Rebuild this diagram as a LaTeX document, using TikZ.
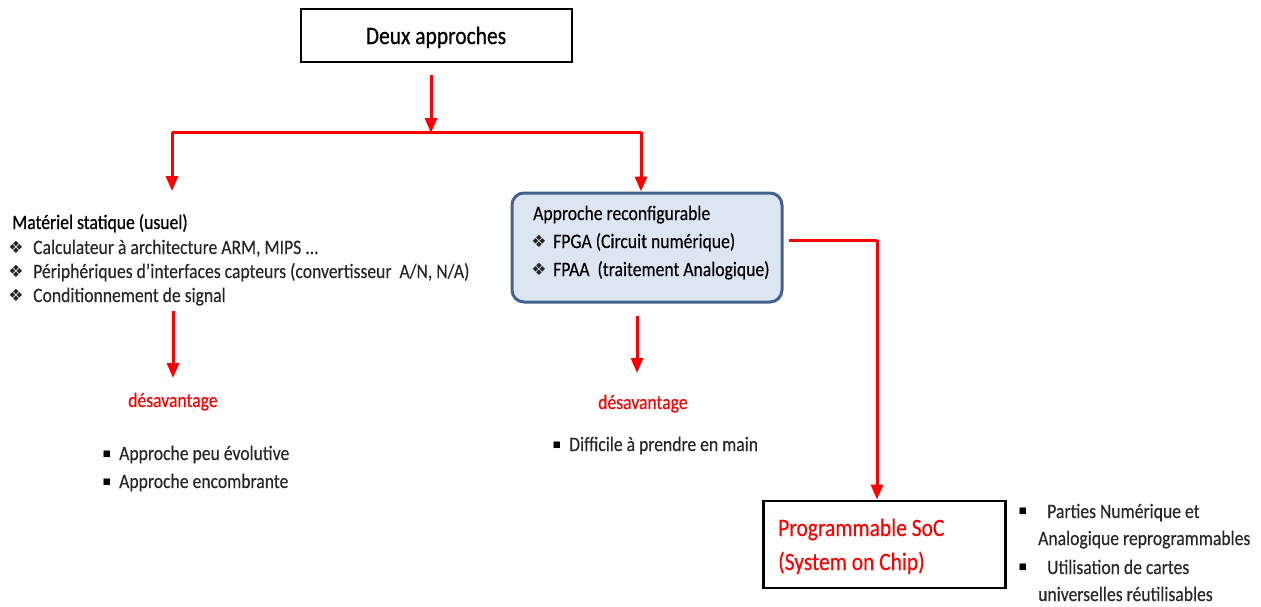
\documentclass[tikz,border=0pt]{standalone}
\usepackage{fontspec}
\setmainfont{Carlito}[FakeStretch=0.86,FakeBold=0.25]
\newfontfamily\headfont{Carlito}[FakeStretch=0.86,FakeBold=0.7]
\newfontfamily\symfont{DejaVu Sans}
\usetikzlibrary{arrows.meta}
\definecolor{boxfill}{HTML}{DCE6F2}
\definecolor{boxline}{HTML}{41628C}
\definecolor{txt}{HTML}{262626}
\newcommand{\diam}{{\symfont\fontsize{17}{17}\selectfont ❖}}
\newcommand{\sq}{{\symfont\fontsize{8.5}{8.5}\selectfont ■}}
\begin{document}
\begin{tikzpicture}[x=1pt,y=-1pt,
  redarrow/.style={draw=red,line width=3pt,-{Triangle[length=15pt,width=12pt]}},
  redline/.style={draw=red,line width=3pt},
  body/.style={anchor=base west,inner sep=0pt,text=txt,font=\fontsize{20.5}{24.5}\selectfont},
  redlbl/.style={anchor=base west,inner sep=0pt,text=red,font=\fontsize{20.5}{24.5}\selectfont},
  bullet/.style={anchor=center,inner sep=0pt,text=black!85},
  sqbullet/.style={anchor=center,inner sep=0pt,text=black}]
\useasboundingbox (0,0) rectangle (1261,606);
% top box
\node[draw=black,line width=1.3pt,minimum width=271pt,minimum height=53pt,inner sep=0pt] (top) at (436.5,35.5) {};
\node[anchor=base,inner sep=0pt,font=\headfont\fontsize{25}{30}\selectfont] (toptxt) at (436,44) {Deux approches};
% splitter
\coordinate (s0) at (431,75);
\coordinate (j) at (431,133);
\coordinate (jl) at (172,132);
\coordinate (jr) at (641,132);
\coordinate (jle) at (172,191);
\draw[redarrow] (s0) -- (j);
\draw[redline] (jl) -- (jr);
% middle box
\node[draw=boxline,fill=boxfill,line width=3pt,rounded corners=12pt,minimum width=270pt,minimum height=109pt,inner sep=0pt] (mid) at (647,247.5) {};
\draw[redarrow] (jl) -- (jle);
\draw[redarrow] (jr) -- (mid.north -| jr);
% left block
\node[anchor=base west,inner sep=0pt,font=\headfont\fontsize{20.5}{24.5}\selectfont] (mat) at (12,229) {Matériel statique (usuel)};
\node[bullet] (b1) at (16,247) {\diam};
\node[body] (l1) at (33,254) {Calculateur à architecture ARM, MIPS ...};
\node[bullet] (b2) at (16,271) {\diam};
\node[body] (l2) at (33,278) {Périphériques d’interfaces capteurs (convertisseur\ \ A/N, N/A)};
\node[bullet] (b3) at (16,295) {\diam};
\node[body] (l3) at (33,302) {Conditionnement de signal};
\coordinate (la0) at (173,311);
\coordinate (la1) at (173,378);
\draw[redarrow] (la0) -- (la1);
\node[redlbl] (dl) at (128,407) {désavantage};
\node[sqbullet] (q1) at (107,454) {\sq};
\node[body] (e1) at (119,460) {Approche peu évolutive};
\node[sqbullet] (q2) at (107,482) {\sq};
\node[body] (e2) at (119,488) {Approche encombrante};
% middle texts
\node[body,text=black] (m0) at (533,220) {Approche reconfigurable};
\node[bullet] (mb1) at (539,241) {\diam};
\node[body,text=black] (m1) at (553,248) {FPGA (Circuit numérique)};
\node[bullet] (mb2) at (539,269) {\diam};
\node[body,text=black] (m2) at (553,276) {FPAA\ \ (traitement Analogique)};
\coordinate (ma0) at (637,316);
\coordinate (ma1) at (637,373);
\draw[redarrow] (ma0) -- (ma1);
\node[redlbl] (dm) at (598,409) {désavantage};
\node[sqbullet] (q3) at (557,445) {\sq};
\node[body] (d1) at (569,451) {Difficile à prendre en main};
% SoC box
\node[draw=black,line width=2.8pt,minimum width=242pt,minimum height=87pt,inner sep=0pt] (soc) at (884.5,544.5) {};
\node[anchor=base west,inner sep=0pt,text=red,font=\fontsize{25}{30}\selectfont] (soc1) at (778,536) {Programmable SoC};
\node[anchor=base west,inner sep=0pt,text=red,font=\fontsize{25}{30}\selectfont] (soc2) at (778,570) {(System on Chip)};
\coordinate (e0) at (789,240);
\coordinate (ec) at (877,240);
\draw[redline] (e0) -- (ec);
\draw[redarrow] (ec) -- (soc.north -| ec);
% right texts
\node[sqbullet] (q4) at (1023,511) {\sq};
\node[body] (r1) at (1047,518) {Parties Numérique et};
\node[body] (r2) at (1038,545) {Analogique reprogrammables};
\node[sqbullet] (q5) at (1023,567) {\sq};
\node[body] (r3) at (1047,574) {Utilisation de cartes};
\node[body] (r4) at (1038,601) {universelles réutilisables};
\end{tikzpicture}
\end{document}
